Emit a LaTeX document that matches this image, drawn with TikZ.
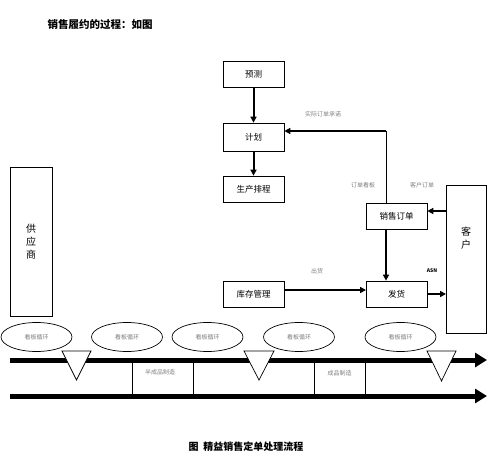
\documentclass[tikz,border=0pt]{standalone}
\usepackage{fontspec}
\setmainfont{Noto Sans CJK SC}
\usetikzlibrary{arrows.meta,shapes.geometric}
\begin{document}
\begin{tikzpicture}[x=1pt,y=-1pt,
  box/.style={draw,line width=0.7pt,fill=white,inner sep=0pt,font=\fontsize{8.5}{10}\selectfont},
  lbl/.style={text=gray,font=\fontsize{6}{7}\selectfont,inner sep=1pt},
  flow/.style={line width=2pt,-{Triangle[length=6pt,width=6pt]}},
  kanban/.style={draw,ellipse,line width=0.7pt,fill=white,minimum width=71pt,minimum height=29pt,inner sep=0pt,text=gray,font=\fontsize{6}{7}\selectfont},
  tline/.style={line width=5pt,-{Triangle[length=12pt,width=14pt]}},
  tri/.style={draw,line width=0.7pt,fill=white}]
\useasboundingbox (0,0) rectangle (487,457);
% title
\node[anchor=west,font=\fontsize{10.5}{12}\selectfont\bfseries] (title) at (44,25) {销售履约的过程：如图};
% boxes
\node[box,minimum width=61pt,minimum height=26pt] (yc) at (253.5,74) {预测};
\node[box,minimum width=61pt,minimum height=28pt] (jh) at (253.5,137) {计划};
\node[box,minimum width=61pt,minimum height=26pt] (sc) at (253.5,189) {生产排程};
\node[box,minimum width=61pt,minimum height=26pt] (xs) at (396.5,216) {销售订单};
\node[box,minimum width=61pt,minimum height=26pt] (fh) at (396.5,294) {发货};
\node[box,minimum width=61pt,minimum height=26pt] (kc) at (253.5,294) {库存管理};
\node[box,minimum width=42pt,minimum height=149pt,font=\fontsize{10}{13}\selectfont,align=center] (gys) at (31,241.5) {供\\应\\商};
\node[box,minimum width=40pt,minimum height=148pt,font=\fontsize{10}{13}\selectfont,align=center] (kh) at (466,259) {客\\户\\[30pt]};
% connectors
\draw[flow] (yc) -- (jh);
\draw[flow] (jh) -- (sc);
\coordinate (c1) at (386,131);
\draw[line width=0.7pt] (xs.north -| c1) -- (c1);
\draw[flow] (c1) -- (jh.east |- c1);
\coordinate (c2) at (446,211);
\draw[flow] (c2) -- (xs.east |- c2);
\draw[flow] (xs.south -| c1) -- (fh.north -| c1);
\coordinate (c3) at (366,290);
\draw[flow] (kc.east |- c3) -- (c3);
\coordinate (c4) at (446,294);
\draw[flow] (fh.east |- c4) -- (c4);
% labels
\node[lbl] (l1) at (323,114) {实际订单承诺};
\node[lbl] (l2) at (363,185) {订单看板};
\node[lbl] (l3) at (422,185) {客户订单};
\node[lbl] (l4) at (317,271) {出货};
\node[lbl,text=black,font=\fontsize{5}{6}\selectfont\bfseries\itshape] (l5) at (432,271) {ASN};
% timeline
\node[draw,line width=0.7pt,fill=white,minimum width=61pt,minimum height=36pt,inner sep=0pt] (bc) at (162.5,378) {};
\node[lbl] (bct) at (160,372) {半成品制造};
\node[draw,line width=0.7pt,fill=white,minimum width=51pt,minimum height=36pt,inner sep=0pt] (cp) at (339.5,378) {};
\node[lbl] (cpt) at (339.5,373) {成品制造};
\coordinate (t1s) at (10,360);
\coordinate (t1e) at (487,360);
\coordinate (t2s) at (10,396);
\coordinate (t2e) at (487,396);
\draw[tline] (t1s) -- (t1e);
\draw[tline] (t2s) -- (t2e);
\draw[tri] (62,351) -- (91,351) -- (76.5,380) -- cycle;
\draw[tri] (244,351) -- (274,351) -- (259,380) -- cycle;
\draw[tri] (427,351) -- (456,351) -- (441.5,381) -- cycle;
% kanban ellipses
\node[kanban] (k1) at (36.5,337) {看板循环};
\node[kanban] (k2) at (127,337) {看板循环};
\node[kanban] (k3) at (207.5,337) {看板循环};
\node[kanban] (k4) at (299,337) {看板循环};
\node[kanban] (k5) at (400.5,337) {看板循环};
% caption
\node[font=\fontsize{10}{12}\selectfont\bfseries] (cap) at (246,447) {图\ \ 精益销售定单处理流程};
\end{tikzpicture}
\end{document}
